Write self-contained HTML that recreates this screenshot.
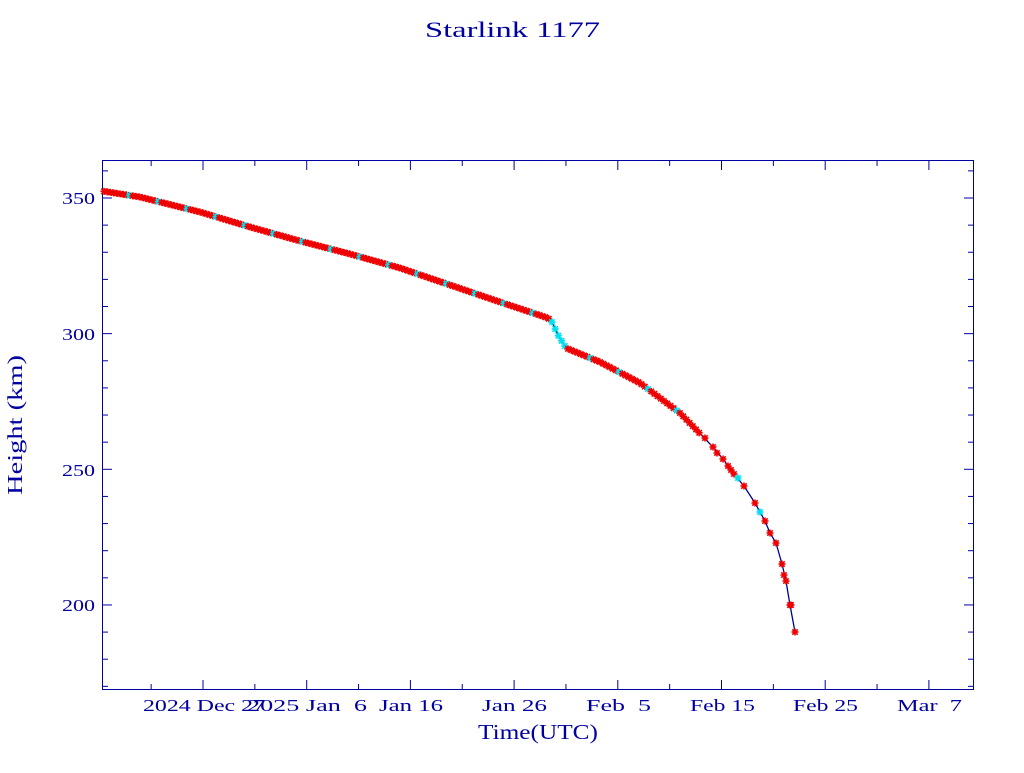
<!DOCTYPE html>
<html><head><meta charset="utf-8"><style>
body{margin:0;background:#fff;}
svg text{font-family:"Liberation Serif",serif;fill:#0000a0;}
</style></head><body>
<svg id="s" width="1024" height="768" xmlns="http://www.w3.org/2000/svg">
<rect width="1024" height="768" fill="#fff"/>
<text x="425" y="37" font-size="22" textLength="175" lengthAdjust="spacingAndGlyphs">Starlink 1177</text>
<rect x="102.5" y="160.5" width="871" height="529" fill="none" stroke="#0000a0" stroke-width="1"/>
<g id="ticks" stroke="#0000a0" stroke-width="1"></g>
<g font-size="17">
<text x="62" y="204" textLength="33" lengthAdjust="spacingAndGlyphs">350</text>
<text x="62" y="340" textLength="33" lengthAdjust="spacingAndGlyphs">300</text>
<text x="62" y="476" textLength="33" lengthAdjust="spacingAndGlyphs">250</text>
<text x="62" y="611" textLength="33" lengthAdjust="spacingAndGlyphs">200</text>
</g>
<g font-size="17">
<text x="143" y="711" textLength="122" lengthAdjust="spacingAndGlyphs">2024 Dec 27</text>
<text x="247" y="711" textLength="120" lengthAdjust="spacingAndGlyphs" xml:space="preserve">2025 Jan  6</text>
<text x="379" y="711" textLength="64" lengthAdjust="spacingAndGlyphs">Jan 16</text>
<text x="482" y="711" textLength="65" lengthAdjust="spacingAndGlyphs">Jan 26</text>
<text x="586" y="711" textLength="65" lengthAdjust="spacingAndGlyphs" xml:space="preserve">Feb  5</text>
<text x="690" y="711" textLength="65" lengthAdjust="spacingAndGlyphs">Feb 15</text>
<text x="793" y="711" textLength="65" lengthAdjust="spacingAndGlyphs">Feb 25</text>
<text x="897" y="711" textLength="65" lengthAdjust="spacingAndGlyphs" xml:space="preserve">Mar  7</text>
</g>
<text x="478" y="739" font-size="21" textLength="120" lengthAdjust="spacingAndGlyphs">Time(UTC)</text>
<text transform="translate(22,495) rotate(-90)" font-size="21" textLength="140" lengthAdjust="spacingAndGlyphs">Height (km)</text>
<polyline id="curve" fill="none" stroke="#000090" stroke-width="1.3" points=""/>
<g id="mk"></g>
</svg>
<script>
var P=[[102,191],[140,197],[200,212],[250,227],[300,241],[350,254],[400,268],[450,285],[500,302],[548,318],[552,322],[558,335],[566,348],[600,362],[640,383],[680,413],[713,447],[723,459],[734,474],[744,486],[755,503],[765,521],[770,533],[776,543],[782,564],[786,581],[790,605],[795,632]];
document.getElementById('curve').setAttribute('points',P.map(p=>p.join(',')).join(' '));
var t=document.getElementById('ticks'),h='';
for(var i=0;i<20;i++){var km=360-i*10;var y=198+(350-km)*2.713;if(y<161||y>689)continue;var L=(km%50==0)?9:5;h+='<line x1="103" y1="'+y+'" x2="'+(103+L)+'" y2="'+y+'"/><line x1="973" y1="'+y+'" x2="'+(973-L)+'" y2="'+y+'"/>';}
for(var k=-2;k<30;k++){var x=203+k*51.85;if(x<103||x>973)continue;var L=(k%2==0)?9:5;h+='<line x1="'+x+'" y1="689" x2="'+x+'" y2="'+(689-L)+'"/><line x1="'+x+'" y1="161" x2="'+x+'" y2="'+(161+L)+'"/>';}
t.innerHTML=h;
function yAt(x){for(var i=0;i<P.length-1;i++){if(x>=P[i][0]&&x<=P[i+1][0]){var f=(x-P[i][0])/(P[i+1][0]-P[i][0]);return P[i][1]+f*(P[i+1][1]-P[i][1]);}}return P[P.length-1][1];}
var m='',n=0;
function star(x,y,c){return '<g stroke="'+c+'" stroke-width="1.6"><line x1="'+(x-3.5)+'" y1="'+y+'" x2="'+(x+3.5)+'" y2="'+y+'"/><line x1="'+x+'" y1="'+(y-3.5)+'" x2="'+x+'" y2="'+(y+3.5)+'"/><line x1="'+(x-2.7)+'" y1="'+(y-2.7)+'" x2="'+(x+2.7)+'" y2="'+(y+2.7)+'"/><line x1="'+(x-2.7)+'" y1="'+(y+2.7)+'" x2="'+(x+2.7)+'" y2="'+(y-2.7)+'"/></g>';}
for(var x=104;x<700;x+=3.2){n++;var c=(n%9==0||(x>550&&x<566))?'#00e0f0':'#ee0000';m+=star(x,yAt(x),c);}
var late=[[705,438],[713,447],[717,453],[723,459],[728,466],[731,470],[734,474],[738,478,1],[744,486],[755,503],[760,512,1],[765,521],[770,533],[776,543],[782,564],[784,575],[786,581],[790,605],[791,605],[795,632]];
late.forEach(function(p){m+=star(p[0],p[1],p[2]?'#00e0f0':'#ee0000');});
document.getElementById('mk').innerHTML=m;
</script>
</body></html>
